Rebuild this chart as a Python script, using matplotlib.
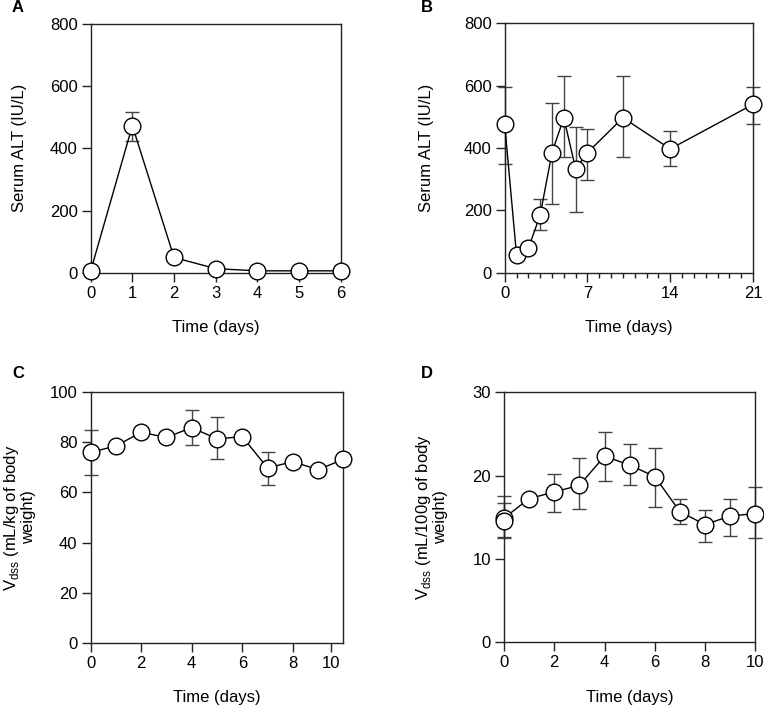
import matplotlib
matplotlib.use("Agg")
import matplotlib.pyplot as plt
from matplotlib.ticker import MultipleLocator

plt.rcParams['font.family'] = ['Liberation Sans', 'DejaVu Sans']
plt.rcParams['font.size'] = 12

# Panel A: Serum ALT, days 0-6
a_days = [0, 1, 2, 3, 4, 5, 6]
a_alt = [6, 473, 49, 13, 6, 6, 6]
a_upper = [6, 518, 49, 13, 6, 6, 6]
a_lower = [6, 425, 49, 13, 6, 6, 6]

# Panel B: Serum ALT, days 0-21
b_days = [0, 1, 2, 3, 4, 5, 6, 7, 10, 14, 21]
b_alt = [476, 57, 78, 185, 385, 497, 333, 385, 497, 397, 540]
b_upper = [597, 57, 78, 235, 545, 631, 468, 462, 631, 455, 597]
b_lower = [349, 57, 78, 137, 220, 370, 194, 297, 370, 342, 477]

# Panel C: Vdss (mL/kg), days 0-10
c_days = [0, 1, 2, 3, 4, 5, 6, 7, 8, 9, 10]
c_vdss = [76.0, 78.6, 84.0, 82.0, 85.9, 81.4, 82.3, 69.8, 72.3, 69.1, 73.2]
c_upper = [85.0, 78.6, 84.0, 82.0, 92.8, 90.0, 82.3, 76.0, 72.3, 69.1, 73.2]
c_lower = [67.1, 78.6, 84.0, 82.0, 78.8, 73.4, 82.3, 62.8, 72.3, 69.1, 73.2]
c_ticks = [0, 2, 4, 6, 8, 9.5]
c_ticklabels = ['0', '2', '4', '6', '8', '10']

# Panel D: Vdss (mL/100g), days 0-10
d_days = [0, 1, 2, 3, 4, 5, 6, 7, 8, 9, 10]
d_vdss = [14.9, 17.24, 18.04, 18.84, 22.32, 21.28, 19.88, 15.68, 14.12, 15.16, 15.44]
d_upper = [17.6, 17.24, 20.16, 22.08, 25.2, 23.84, 23.36, 17.24, 15.92, 17.24, 18.68]
d_lower = [12.56, 17.24, 15.68, 15.96, 19.4, 18.84, 16.24, 14.16, 12.0, 12.8, 12.56]
d_extra_day = [0]
d_extra_vdss = [14.5]
d_extra_upper = [16.7]
d_extra_lower = [12.6]

fig = plt.figure(figsize=(7.64, 7.07), dpi=100)

def fx(px):
    return px / 764.0

def fy(py):
    return 1 - py / 707.0

axA = fig.add_axes([fx(90.7), fy(272.7), fx(340.7 - 90.7), (272.7 - 24) / 707.0])
axB = fig.add_axes([fx(504.7), fy(272.7), fx(753 - 504.7), (272.7 - 23.3) / 707.0])
axC = fig.add_axes([fx(90.7), fy(642.7), fx(343.3 - 90.7), (642.7 - 392.3) / 707.0])
axD = fig.add_axes([fx(504), fy(642.3), fx(755.3 - 504), (642.3 - 392.3) / 707.0])

ebcol = '#444444'

def draw(ax, x, y, up, lo):
    yerr = [[yy - l for yy, l in zip(y, lo)], [u - yy for yy, u in zip(y, up)]]
    ax.errorbar(x, y, yerr=yerr, fmt='none', ecolor=ebcol, elinewidth=1.0,
                capsize=5, capthick=1.0, zorder=2, clip_on=False)
    ax.plot(x, y, color='black', lw=1.0, marker='o', markersize=12,
            markerfacecolor='white', markeredgecolor='black', markeredgewidth=1.0,
            zorder=3, clip_on=False)

def style(ax):
    for s in ax.spines.values():
        s.set_color('#222222')
        s.set_linewidth(1.0)
    ax.tick_params(direction='out', length=6.5, width=1.0, pad=3, color='#222222', labelsize=12)

def ylabel_at(ax, text, xpix):
    ax.set_ylabel(text, linespacing=0.95)
    ax.yaxis.label.set_va('center')
    bbox = ax.get_position()
    ax.yaxis.set_label_coords((fx(xpix) - bbox.x0) / bbox.width, 0.5)

draw(axA, a_days, a_alt, a_upper, a_lower)
axA.set_xlim(0, 6)
axA.set_ylim(0, 800)
axA.set_xticks(a_days)
axA.set_yticks([0, 200, 400, 600, 800])
axA.set_xlabel('Time (days)', labelpad=14)
style(axA)
ylabel_at(axA, 'Serum ALT (IU/L)', 20)

draw(axB, b_days, b_alt, b_upper, b_lower)
axB.set_xlim(0, 21)
axB.set_ylim(0, 800)
axB.set_xticks([0, 7, 14, 21])
axB.xaxis.set_minor_locator(MultipleLocator(1))
axB.set_yticks([0, 200, 400, 600, 800])
axB.set_xlabel('Time (days)', labelpad=14)
style(axB)
axB.tick_params(axis='x', which='minor', direction='out', length=3.5, width=1.0, color='#222222')
ylabel_at(axB, 'Serum ALT (IU/L)', 427)

draw(axC, c_days, c_vdss, c_upper, c_lower)
axC.set_xlim(0, 10)
axC.set_ylim(0, 100)
axC.set_xticks(c_ticks)
axC.set_xticklabels(c_ticklabels)
axC.set_yticks([0, 20, 40, 60, 80, 100])
axC.set_xlabel('Time (days)', labelpad=14)
style(axC)
ylabel_at(axC, 'V$_{\\mathregular{dss}}$ (mL/kg of body\nweight)', 19)

draw(axD, d_days, d_vdss, d_upper, d_lower)
draw(axD, d_extra_day, d_extra_vdss, d_extra_upper, d_extra_lower)
axD.set_xlim(0, 10)
axD.set_ylim(0, 30)
axD.set_xticks([0, 2, 4, 6, 8, 10])
axD.set_yticks([0, 10, 20, 30])
axD.set_xlabel('Time (days)', labelpad=14)
style(axD)
ylabel_at(axD, 'V$_{\\mathregular{dss}}$ (mL/100g of body\nweight)', 431)

for lab, x, y in [('A', 18, 8), ('B', 427, 8), ('C', 18, 374), ('D', 427, 374)]:
    fig.text(fx(x), fy(y), lab, fontsize=12, fontweight='bold', ha='center', va='center')

fig.savefig('out.png', dpi=100)
